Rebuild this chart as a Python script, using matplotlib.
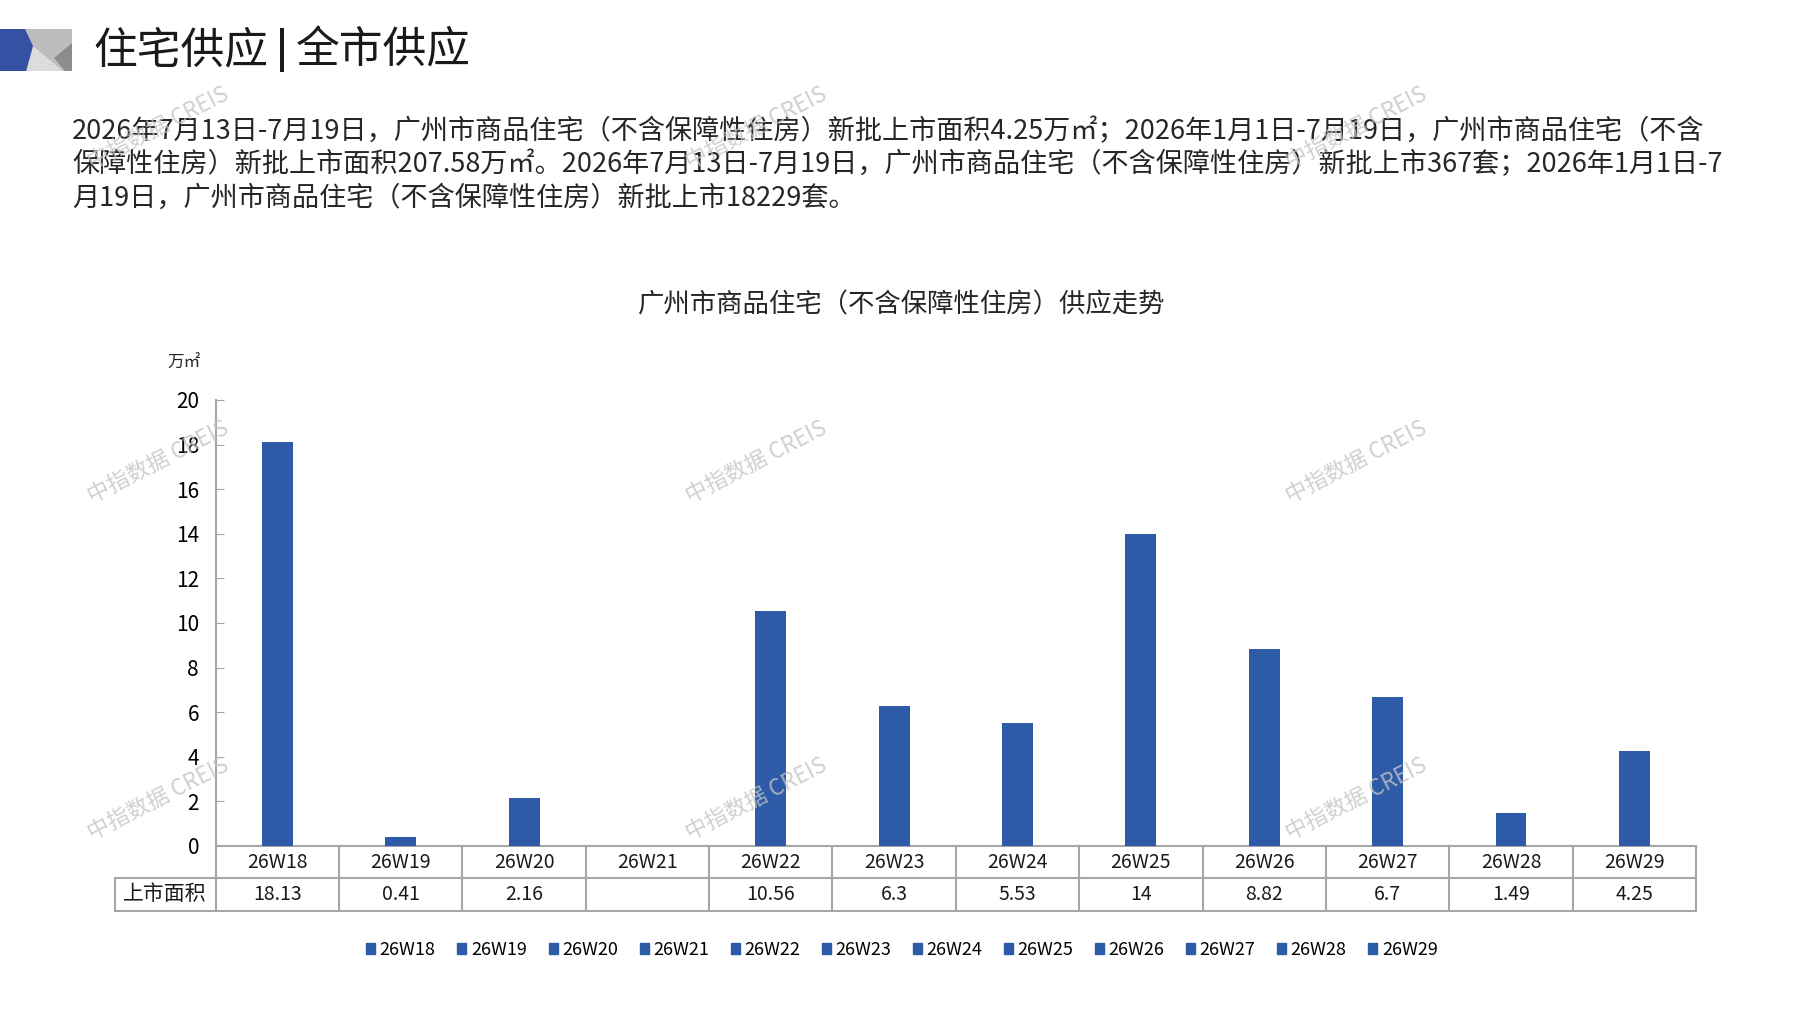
import numpy as np
import matplotlib
matplotlib.use("Agg")
import matplotlib.pyplot as plt
from matplotlib.patches import Patch, Polygon, Rectangle

plt.rcParams['font.family'] = ['Noto Sans CJK SC', 'DejaVu Sans']

# ---- data ----
weeks = ['26W18', '26W19', '26W20', '26W21', '26W22', '26W23',
         '26W24', '26W25', '26W26', '26W27', '26W28', '26W29']
area = [18.13, 0.41, 2.16, np.nan, 10.56, 6.3, 5.53, 14, 8.82, 6.7, 1.49, 4.25]
area_labels = ['18.13', '0.41', '2.16', '', '10.56', '6.3', '5.53', '14',
               '8.82', '6.7', '1.49', '4.25']
yticks = [0, 2, 4, 6, 8, 10, 12, 14, 16, 18, 20]

title_left = '住宅供应'
title_right = '全市供应'
chart_title = '广州市商品住宅（不含保障性住房）供应走势'
row_label = '上市面积'
unit = '万㎡'
para = ['2026年7月13日-7月19日，广州市商品住宅（不含保障性住房）新批上市面积4.25万㎡；2026年1月1日-7月19日，广州市商品住宅（不含',
        '保障性住房）新批上市面积207.58万㎡。2026年7月13日-7月19日，广州市商品住宅（不含保障性住房）新批上市367套；2026年1月1日-7',
        '月19日，广州市商品住宅（不含保障性住房）新批上市18229套。']
watermark = '中指数据 CREIS'

W, H = 1797, 1010
BLUE = '#2E5BA7'
GRID = '#A6A6A6'


def fx(x):
    return x / W


def fy(y):
    return 1 - y / H


fig = plt.figure(figsize=(W / 100, H / 100), dpi=100)

# ---- header icon ----
fig.patches.append(Rectangle((fx(25), fy(71)), fx(72) - fx(25), fy(29) - fy(71),
                             transform=fig.transFigure, color='#BDBDBD', lw=0))
fig.patches.append(Polygon([(fx(27), fy(71)), (fx(33), fy(46)), (fx(63), fy(71))],
                           transform=fig.transFigure, color='#DCDCDC', lw=0))
fig.patches.append(Polygon([(fx(72), fy(43)), (fx(54), fy(58)), (fx(65), fy(71)), (fx(72), fy(71))],
                           transform=fig.transFigure, color='#8C8C8C', lw=0))
fig.patches.append(Polygon([(0, fy(29)), (fx(25), fy(29)), (fx(33), fy(46)), (fx(26), fy(71)), (0, fy(71))],
                           transform=fig.transFigure, color='#3451A3', lw=0))

# page title with a thick divider bar
fig.text(fx(93), fy(50), title_left, fontsize=31.5, va='center', ha='left', color='#1A1A1A')
fig.text(fx(296), fy(50), title_right, fontsize=31.5, va='center', ha='left', color='#1A1A1A')
fig.patches.append(Rectangle((fx(280), fy(72)), fx(3.5), fy(28) - fy(72),
                             transform=fig.transFigure, color='#1A1A1A', lw=0))

for i, line in enumerate(para):
    fig.text(fx(72), fy(131 + i * 33.5), line, fontsize=19.5, va='center', ha='left', color='#262626')

fig.text(fx(902), fy(305), chart_title, fontsize=19, va='center', ha='center', color='#262626')
fig.text(fx(184), fy(363), unit, fontsize=12, va='center', ha='center', color='#262626')

# ---- bar chart ----
y0, y20 = 846, 400
left, right = 215.7, 1696
ax = fig.add_axes([fx(left), fy(y0), fx(right) - fx(left), (y0 - y20) / H])
x = np.arange(len(weeks))
bars = ax.bar(x, np.nan_to_num(area), width=0.25, color=BLUE, zorder=3)
ax.set_xlim(-0.5, len(weeks) - 0.5)
ax.set_ylim(0, 20)
ax.set_yticks(yticks)
ax.tick_params(axis='y', direction='in', length=6, color=GRID, labelsize=15, pad=12)
ax.set_xticks([])
for s in ['top', 'right']:
    ax.spines[s].set_visible(False)
ax.spines['left'].set_color(GRID)
ax.spines['left'].set_linewidth(1.5)
ax.spines['bottom'].set_color(GRID)
ax.spines['bottom'].set_linewidth(1.5)

# ---- data table under the axis ----
colw = (right - left) / len(weeks)
xl = -0.5 - (left - 114.5) / colw
r1 = -32 / (y0 - y20)
r2 = -65 / (y0 - y20)
tr = ax.get_xaxis_transform()
lk = dict(color=GRID, lw=1.5, transform=tr, clip_on=False)
ax.plot([-0.5, len(weeks) - 0.5], [r1, r1], **lk)
ax.plot([xl, -0.5], [r1, r1], **lk)
ax.plot([xl, len(weeks) - 0.5], [r2, r2], **lk)
ax.plot([xl, xl], [r1, r2], **lk)
for b in np.arange(len(weeks) + 1) - 0.5:
    ax.plot([b, b], [0, r2], **lk)
for i, w in enumerate(weeks):
    ax.text(i, r1 / 2, w, transform=tr, ha='center', va='center', fontsize=14, color='#1A1A1A')
    ax.text(i, (r1 + r2) / 2, area_labels[i], transform=tr, ha='center', va='center',
            fontsize=14, color='#1A1A1A')
ax.text((xl - 0.5) / 2, (r1 + r2) / 2, row_label, transform=tr, ha='center', va='center',
        fontsize=15, color='#1A1A1A')

# ---- legend ----
handles = [Patch(color=BLUE, label=w) for w in weeks]
fig.legend(handles=handles, loc='center', bbox_to_anchor=(fx(902), fy(950)), ncol=12,
           frameon=False, fontsize=13, handlelength=0.5, handleheight=0.5,
           handletextpad=0.25, columnspacing=1.2)

# ---- watermarks ----
for wy in [128, 462, 799]:
    for wx in [158, 756, 1356]:
        fig.text(fx(wx), fy(wy), watermark, fontsize=16, rotation=27, ha='center', va='center',
                 rotation_mode='anchor', color='#C4C4C4', alpha=0.8, zorder=10)

fig.savefig('out.png', dpi=100)
